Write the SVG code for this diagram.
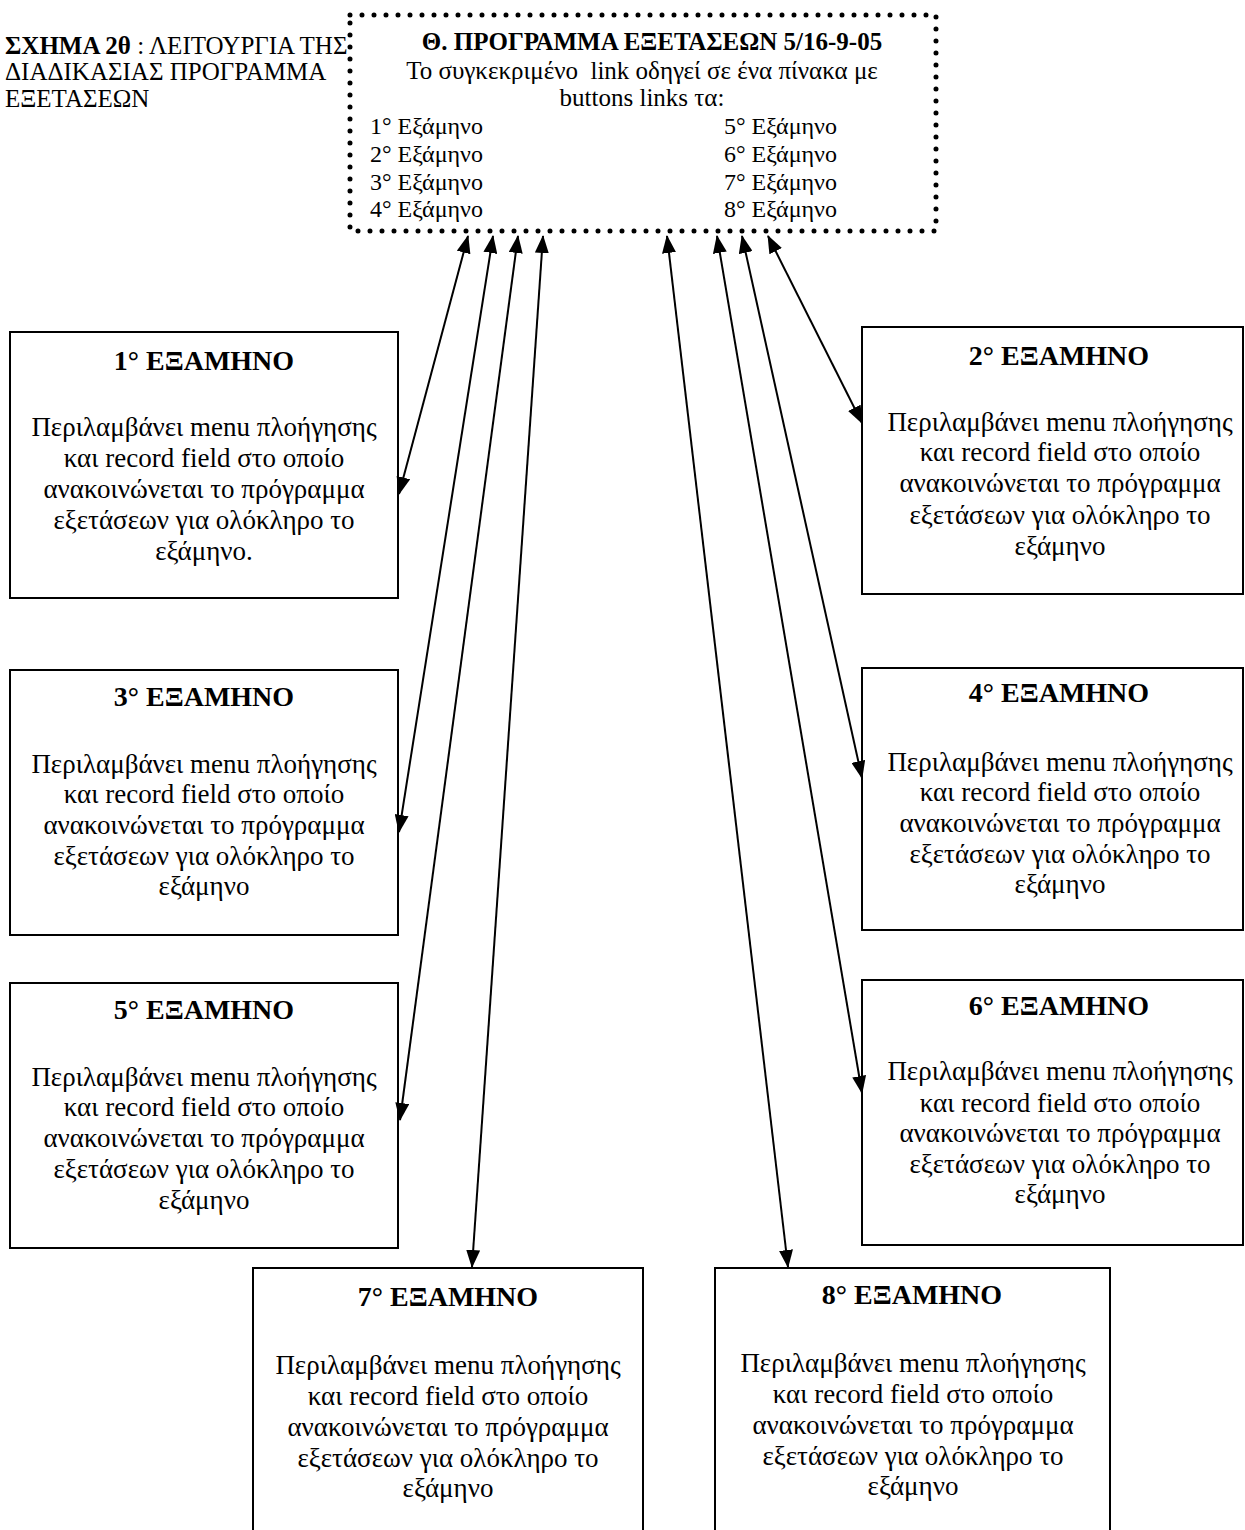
<svg xmlns="http://www.w3.org/2000/svg" width="1245" height="1530" viewBox="0 0 1245 1530">
<style>
text{font-family:"Liberation Serif","Times New Roman",serif;fill:#000}
.hd{font-size:25px}
.tb{font-size:25px;text-anchor:middle;white-space:pre}
.li{font-size:24px}
.ti{font-size:28px;font-weight:bold;text-anchor:middle}
.bd{font-size:27px;text-anchor:middle}
.box{fill:#fff;stroke:#000;stroke-width:2}
.dot{fill:none;stroke:#000;stroke-width:5;stroke-linecap:round;stroke-dasharray:0 12}
.arr{stroke:#000;stroke-width:2;fill:none;marker-start:url(#ah);marker-end:url(#ah)}
</style>
<defs>
<marker id="ah" viewBox="0 0 18 14" refX="17" refY="7" markerWidth="18" markerHeight="14" markerUnits="userSpaceOnUse" orient="auto-start-reverse">
<path d="M0,0 L18,7 L0,14 Z" fill="#000"/>
</marker>
</defs>
<rect width="1245" height="1530" fill="#fff"/>

<g id="caption">
<text class="hd" x="5" y="54"><tspan font-weight="bold">ΣΧΗΜΑ 2θ</tspan> : ΛΕΙΤΟΥΡΓΙΑ ΤΗΣ</text>
<text class="hd" x="5" y="80">ΔΙΑΔΙΚΑΣΙΑΣ ΠΡΟΓΡΑΜΜΑ</text>
<text class="hd" x="5" y="107">ΕΞΕΤΑΣΕΩΝ</text>
</g>

<g id="program">
<rect class="dot" x="350" y="15" width="586" height="216"/>
<text class="tb" x="652" y="50" font-weight="bold" font-size="26">Θ. ΠΡΟΓΡΑΜΜΑ ΕΞΕΤΑΣΕΩΝ 5/16-9-05</text>
<text class="tb" x="642" y="79">Το συγκεκριμένο  link οδηγεί σε ένα πίνακα με</text>
<text class="tb" x="642" y="106">buttons links τα:</text>
<text class="li" x="370" y="134">1° Εξάμηνο</text>
<text class="li" x="370" y="162">2° Εξάμηνο</text>
<text class="li" x="370" y="190">3° Εξάμηνο</text>
<text class="li" x="370" y="217">4° Εξάμηνο</text>
<text class="li" x="724" y="134">5° Εξάμηνο</text>
<text class="li" x="724" y="162">6° Εξάμηνο</text>
<text class="li" x="724" y="190">7° Εξάμηνο</text>
<text class="li" x="724" y="217">8° Εξάμηνο</text>
</g>

<g id="sem1">
<rect class="box" x="10" y="332" width="388" height="266"/>
<text class="ti" x="204" y="370">1° ΕΞΑΜΗΝΟ</text>
<text class="bd" x="204" y="436">Περιλαμβάνει menu πλοήγησης</text>
<text class="bd" x="204" y="467">και record field στο οποίο</text>
<text class="bd" x="204" y="498">ανακοινώνεται το πρόγραμμα</text>
<text class="bd" x="204" y="529">εξετάσεων για ολόκληρο το</text>
<text class="bd" x="204" y="560">εξάμηνο.</text>
</g>

<g id="sem2">
<rect class="box" x="862" y="327" width="381" height="267"/>
<text class="ti" x="1059" y="365">2° ΕΞΑΜΗΝΟ</text>
<text class="bd" x="1060" y="431">Περιλαμβάνει menu πλοήγησης</text>
<text class="bd" x="1060" y="461">και record field στο οποίο</text>
<text class="bd" x="1060" y="492">ανακοινώνεται το πρόγραμμα</text>
<text class="bd" x="1060" y="524">εξετάσεων για ολόκληρο το</text>
<text class="bd" x="1060" y="555">εξάμηνο</text>
</g>

<g id="sem3">
<rect class="box" x="10" y="670" width="388" height="265"/>
<text class="ti" x="204" y="706">3° ΕΞΑΜΗΝΟ</text>
<text class="bd" x="204" y="773">Περιλαμβάνει menu πλοήγησης</text>
<text class="bd" x="204" y="803">και record field στο οποίο</text>
<text class="bd" x="204" y="834">ανακοινώνεται το πρόγραμμα</text>
<text class="bd" x="204" y="865">εξετάσεων για ολόκληρο το</text>
<text class="bd" x="204" y="895">εξάμηνο</text>
</g>

<g id="sem4">
<rect class="box" x="862" y="668" width="381" height="262"/>
<text class="ti" x="1059" y="702">4° ΕΞΑΜΗΝΟ</text>
<text class="bd" x="1060" y="771">Περιλαμβάνει menu πλοήγησης</text>
<text class="bd" x="1060" y="801">και record field στο οποίο</text>
<text class="bd" x="1060" y="832">ανακοινώνεται το πρόγραμμα</text>
<text class="bd" x="1060" y="863">εξετάσεων για ολόκληρο το</text>
<text class="bd" x="1060" y="893">εξάμηνο</text>
</g>

<g id="sem5">
<rect class="box" x="10" y="983" width="388" height="265"/>
<text class="ti" x="204" y="1019">5° ΕΞΑΜΗΝΟ</text>
<text class="bd" x="204" y="1086">Περιλαμβάνει menu πλοήγησης</text>
<text class="bd" x="204" y="1116">και record field στο οποίο</text>
<text class="bd" x="204" y="1147">ανακοινώνεται το πρόγραμμα</text>
<text class="bd" x="204" y="1178">εξετάσεων για ολόκληρο το</text>
<text class="bd" x="204" y="1209">εξάμηνο</text>
</g>

<g id="sem6">
<rect class="box" x="862" y="980" width="381" height="265"/>
<text class="ti" x="1059" y="1015">6° ΕΞΑΜΗΝΟ</text>
<text class="bd" x="1060" y="1080">Περιλαμβάνει menu πλοήγησης</text>
<text class="bd" x="1060" y="1112">και record field στο οποίο</text>
<text class="bd" x="1060" y="1142">ανακοινώνεται το πρόγραμμα</text>
<text class="bd" x="1060" y="1173">εξετάσεων για ολόκληρο το</text>
<text class="bd" x="1060" y="1203">εξάμηνο</text>
</g>

<g id="sem7">
<rect class="box" x="253" y="1268" width="390" height="270"/>
<text class="ti" x="448" y="1306">7° ΕΞΑΜΗΝΟ</text>
<text class="bd" x="448" y="1374">Περιλαμβάνει menu πλοήγησης</text>
<text class="bd" x="448" y="1405">και record field στο οποίο</text>
<text class="bd" x="448" y="1436">ανακοινώνεται το πρόγραμμα</text>
<text class="bd" x="448" y="1467">εξετάσεων για ολόκληρο το</text>
<text class="bd" x="448" y="1497">εξάμηνο</text>
</g>

<g id="sem8">
<rect class="box" x="715" y="1268" width="395" height="270"/>
<text class="ti" x="912" y="1304">8° ΕΞΑΜΗΝΟ</text>
<text class="bd" x="913" y="1372">Περιλαμβάνει menu πλοήγησης</text>
<text class="bd" x="913" y="1403">και record field στο οποίο</text>
<text class="bd" x="913" y="1434">ανακοινώνεται το πρόγραμμα</text>
<text class="bd" x="913" y="1465">εξετάσεων για ολόκληρο το</text>
<text class="bd" x="913" y="1495">εξάμηνο</text>
</g>

<g id="connectors">
<line class="arr" x1="468" y1="236" x2="399" y2="494"/>
<line class="arr" x1="493" y1="236" x2="399" y2="832"/>
<line class="arr" x1="518" y1="236" x2="400" y2="1120"/>
<line class="arr" x1="543" y1="236" x2="472" y2="1267"/>
<line class="arr" x1="667" y1="236" x2="788" y2="1267"/>
<line class="arr" x1="717" y1="236" x2="862" y2="1093"/>
<line class="arr" x1="742" y1="236" x2="862" y2="778"/>
<line class="arr" x1="768" y1="236" x2="862" y2="423"/>
</g>
</svg>
